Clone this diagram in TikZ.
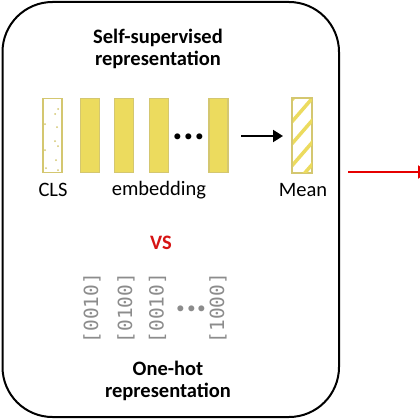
\documentclass[tikz,border=0pt]{standalone}
\usepackage{fontspec}
\setmainfont{Carlito}
\setmonofont{DejaVu Sans Mono}
\usetikzlibrary{arrows,%
                arrows.meta,%
                positioning}
\definecolor{barfill}{RGB}{236,219,94}
\definecolor{barline}{RGB}{212,199,112}
\definecolor{vecgray}{RGB}{140,140,140}
\definecolor{vsred}{RGB}{214,20,20}
\definecolor{outred}{RGB}{230,0,0}

\begin{document}
\begin{tikzpicture}[x=1pt,y=-1pt,style=thick]
\tikzstyle{panel}=[draw,line width=2pt,rounded corners=50pt]
\tikzstyle{bar}=[draw=barline,line width=1.6pt,fill=barfill,minimum width=19pt,minimum height=74pt,inner sep=0pt]
\tikzstyle{hollow}=[bar,fill=white]
\tikzstyle{title}=[font=\fontsize{20.5}{25}\selectfont\bfseries,align=center]
\tikzstyle{label}=[font=\fontsize{20.5}{25}\selectfont]
\tikzstyle{ellip}=[font=\fontsize{40}{40}\selectfont\bfseries,anchor=base,inner sep=0pt]
\tikzstyle{onehot}=[font=\fontsize{19.5}{22}\selectfont\ttfamily,text=vecgray,rotate=90,inner sep=0pt]
\tikzstyle{edge} = [draw,line width=2pt,-{Triangle[length=10pt,width=12pt]}];

\useasboundingbox (0,0) rectangle (420,420);
\clip (0,0) rectangle (420,420);

\draw[panel] (2.5,2) rectangle (339,417);

\draw (158,49) node[title] (top) {Self-supervised\\[-3pt]representation};

% token embeddings
\draw (52.5,135.5) node[hollow] (cls) {};
\draw (90,135.5) node[bar] (e1) {};
\draw (124,135.5) node[bar] (e2) {};
\draw (159,135.5) node[bar] (e3) {};
\draw (189,139.5) node[ellip] (edots) {...};
\draw (218.5,135.5) node[bar] (e4) {};
\draw (302,135.5) node[hollow] (mean) {};

% dots in cls
\foreach \px/\py in {58/109,55/114,57/127,45/124,55/141,58/146,45/150,56/160,46/168,58/170}
  \fill[barline] (\px,\py) circle (1pt);

% stripes in mean
\begin{scope}
\clip (mean.south west) rectangle (mean.north east);
\foreach \s in {-2,...,4}
  \draw[barfill,line width=3.5pt] (290,190-22*\s) -- (316,160-22*\s);
\end{scope}
\draw[draw=barline,line width=1.6pt] (mean.south west) rectangle (mean.north east);

\coordinate (aend) at (283,136);
\path[edge] (241,136) -- (aend);

\draw (53,190) node[label] (clslab) {CLS};
\draw (159,190) node[label] (emblab) {embedding};
\draw (303,190) node[label] (meanlab) {Mean};

\draw (161,243) node[title,text=vsred] (vs) {VS};

% one-hot vectors
\draw (92,308) node[onehot] (v1) {[0010]};
\draw (126,308) node[onehot] (v2) {[0100]};
\draw (157.5,308) node[onehot] (v3) {[0010]};
\draw (191.5,311.5) node[ellip,text=vecgray] (vdots) {...};
\draw (218,308) node[onehot] (v4) {[1000]};

\draw (168,381) node[title] (bottom) {One-hot\\[-3pt]representation};

% output arrow
\coordinate (out) at (348,172);
\coordinate (next) at (428,172);
\path[draw,outred,line width=2pt,-{Triangle[length=10pt,width=13pt]}] (out) -- (next);
\end{tikzpicture}
\end{document}
